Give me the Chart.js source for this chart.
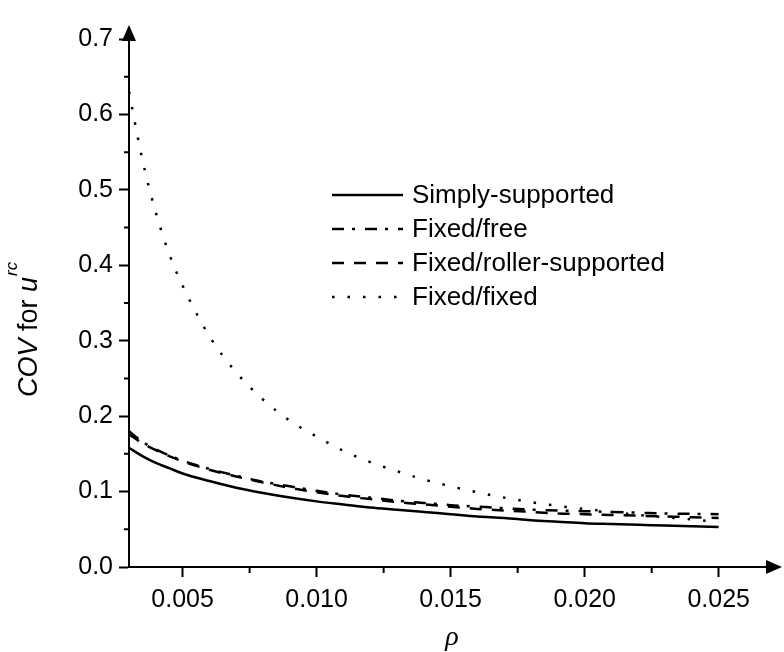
<!DOCTYPE html>
<html>
<head>
<meta charset="utf-8">
<script src="https://cdn.jsdelivr.net/npm/chart.js@4"></script>
<style>
  body { margin: 0; background: #fff; }
  canvas { display: block; }
</style>
</head>
<body>
<canvas id="grafico" width="784" height="652"></canvas>
<script>
// reinforcement ratio
const rho = [0.003, 0.0035, 0.004, 0.0045, 0.005, 0.006, 0.007, 0.008, 0.009, 0.010,
  0.011, 0.012, 0.013, 0.014, 0.015, 0.016, 0.017, 0.018, 0.019, 0.020,
  0.021, 0.022, 0.023, 0.024, 0.025]

// COV for u^rc, one list per boundary condition
const simplySupported = [0.158, 0.147, 0.138, 0.131, 0.124, 0.114, 0.105, 0.098, 0.092, 0.087,
  0.083, 0.079, 0.076, 0.073, 0.070, 0.067, 0.065, 0.062, 0.060, 0.058,
  0.057, 0.056, 0.055, 0.054, 0.053]
const fixedFree = [0.180, 0.166, 0.156, 0.148, 0.141, 0.130, 0.121, 0.113, 0.107, 0.101,
  0.096, 0.092, 0.088, 0.085, 0.082, 0.080, 0.078, 0.076, 0.075, 0.074,
  0.073, 0.072, 0.071, 0.0705, 0.070]
const fixedRoller = [0.176, 0.164, 0.155, 0.147, 0.140, 0.129, 0.120, 0.112, 0.105, 0.099,
  0.094, 0.090, 0.086, 0.083, 0.080, 0.077, 0.075, 0.073, 0.071, 0.070,
  0.069, 0.068, 0.067, 0.066, 0.065]
const fixedFixed = [0.630, 0.540, 0.470, 0.415, 0.373, 0.306, 0.258, 0.222, 0.194, 0.173,
  0.154, 0.139, 0.127, 0.116, 0.107, 0.099, 0.092, 0.086, 0.081, 0.077,
  0.073, 0.069, 0.066, 0.063, 0.060]

const seriesNames = ['Simply-supported', 'Fixed/free', 'Fixed/roller-supported', 'Fixed/fixed']

const xTicks = [0.005, 0.010, 0.015, 0.020, 0.025]
const xMinorTicks = [0.0075, 0.0125, 0.0175, 0.0225]
const yTicks = [0.0, 0.1, 0.2, 0.3, 0.4, 0.5, 0.6, 0.7]
const yMinorTicks = [0.05, 0.15, 0.25, 0.35, 0.45, 0.55, 0.65]

const toPoints = (ys) => rho.map((x, i) => ({ x: x, y: ys[i] }))

const lineStyle = (dash) => ({
  borderColor: '#000',
  borderWidth: 2.5,
  borderDash: dash,
  pointRadius: 0,
  fill: false,
  cubicInterpolationMode: 'monotone'
})

const datasets = [
  { label: seriesNames[0], data: toPoints(simplySupported), ...lineStyle([]) },
  { label: seriesNames[1], data: toPoints(fixedFree), ...lineStyle([12, 8, 3, 10]) },
  { label: seriesNames[2], data: toPoints(fixedRoller), ...lineStyle([12, 10]) },
  { label: seriesNames[3], data: toPoints(fixedFixed), ...lineStyle([2.5, 13]) }
]

// minor ticks, axis arrows, axis titles and the legend box
const extras = {
  id: 'extras',
  afterDraw(chart) {
    const ctx = chart.ctx
    const sx = chart.scales.x
    const sy = chart.scales.y
    const area = chart.chartArea
    ctx.save()
    ctx.strokeStyle = '#000'
    ctx.fillStyle = '#000'
    ctx.lineWidth = 2

    ctx.beginPath()
    xMinorTicks.forEach(v => {
      const px = sx.getPixelForValue(v)
      ctx.moveTo(px, area.bottom)
      ctx.lineTo(px, area.bottom + 6)
    })
    yMinorTicks.forEach(v => {
      const py = sy.getPixelForValue(v)
      ctx.moveTo(area.left, py)
      ctx.lineTo(area.left - 5, py)
    })
    ctx.stroke()

    // arrow heads
    ctx.beginPath()
    ctx.moveTo(area.left - 7, area.top + 2)
    ctx.lineTo(area.left + 7, area.top + 2)
    ctx.lineTo(area.left, area.top - 14)
    ctx.closePath()
    ctx.fill()
    ctx.beginPath()
    ctx.moveTo(area.right - 2, area.bottom - 7)
    ctx.lineTo(area.right - 2, area.bottom + 7)
    ctx.lineTo(area.right + 14, area.bottom)
    ctx.closePath()
    ctx.fill()

    // x title
    ctx.font = 'italic 28px "Liberation Serif"'
    ctx.textAlign = 'center'
    ctx.textBaseline = 'alphabetic'
    ctx.fillText('ρ', 452, 645)

    // y title: COV for u^rc
    ctx.save()
    ctx.translate(37, 397)
    ctx.rotate(-Math.PI / 2)
    ctx.textAlign = 'left'
    let cx = 0
    ctx.font = 'italic 27px "Liberation Sans"'
    ctx.fillText('COV', cx, 0)
    cx += ctx.measureText('COV').width
    ctx.font = '27px "Liberation Sans"'
    ctx.fillText(' for ', cx, 0)
    cx += ctx.measureText(' for ').width
    ctx.font = 'italic 27px "Liberation Sans"'
    ctx.fillText('u', cx, 0)
    cx += ctx.measureText('u').width
    ctx.font = 'italic 17px "Liberation Sans"'
    ctx.fillText('rc', cx + 1, -20)
    ctx.restore()

    // legend
    ctx.font = '26px "Liberation Sans"'
    ctx.textAlign = 'left'
    ctx.textBaseline = 'middle'
    chart.data.datasets.forEach((ds, i) => {
      const ly = 195 + i * 34
      ctx.setLineDash(ds.borderDash)
      ctx.lineWidth = ds.borderWidth
      ctx.beginPath()
      ctx.moveTo(332, ly)
      ctx.lineTo(403, ly)
      ctx.stroke()
      ctx.setLineDash([])
      ctx.fillText(ds.label, 412, ly + 1)
    })
    ctx.restore()
  }
}

const tickFont = { family: '"Liberation Sans"', size: 25 }

new Chart(document.querySelector('#grafico'), {
  type: 'line',
  data: { datasets: datasets },
  options: {
    responsive: false,
    animation: false,
    devicePixelRatio: 1,
    layout: { padding: { top: 39, right: 16, left: 0, bottom: 0 } },
    plugins: { legend: { display: false }, tooltip: { enabled: false } },
    scales: {
      x: {
        type: 'linear',
        min: 0.003,
        max: 0.02684,
        afterBuildTicks: (scale) => { scale.ticks = xTicks.map(v => ({ value: v })) },
        afterFit: (scale) => { scale.height = 85 },
        ticks: {
          autoSkip: false,
          maxRotation: 0,
          padding: 8,
          color: '#000',
          font: tickFont,
          callback: (v) => v.toFixed(3)
        },
        grid: { drawOnChartArea: false, drawTicks: true, tickLength: 10, tickWidth: 2, tickColor: '#000' },
        border: { display: true, color: '#000', width: 2 }
      },
      y: {
        min: 0,
        max: 0.7,
        afterBuildTicks: (scale) => { scale.ticks = yTicks.map(v => ({ value: v })) },
        afterFit: (scale) => { scale.width = 129 },
        ticks: {
          autoSkip: false,
          padding: 6,
          color: '#000',
          font: tickFont,
          callback: (v) => v.toFixed(1)
        },
        grid: { drawOnChartArea: false, drawTicks: true, tickLength: 10, tickWidth: 2, tickColor: '#000' },
        border: { display: true, color: '#000', width: 2 }
      }
    }
  },
  plugins: [extras]
})
</script>
</body>
</html>
